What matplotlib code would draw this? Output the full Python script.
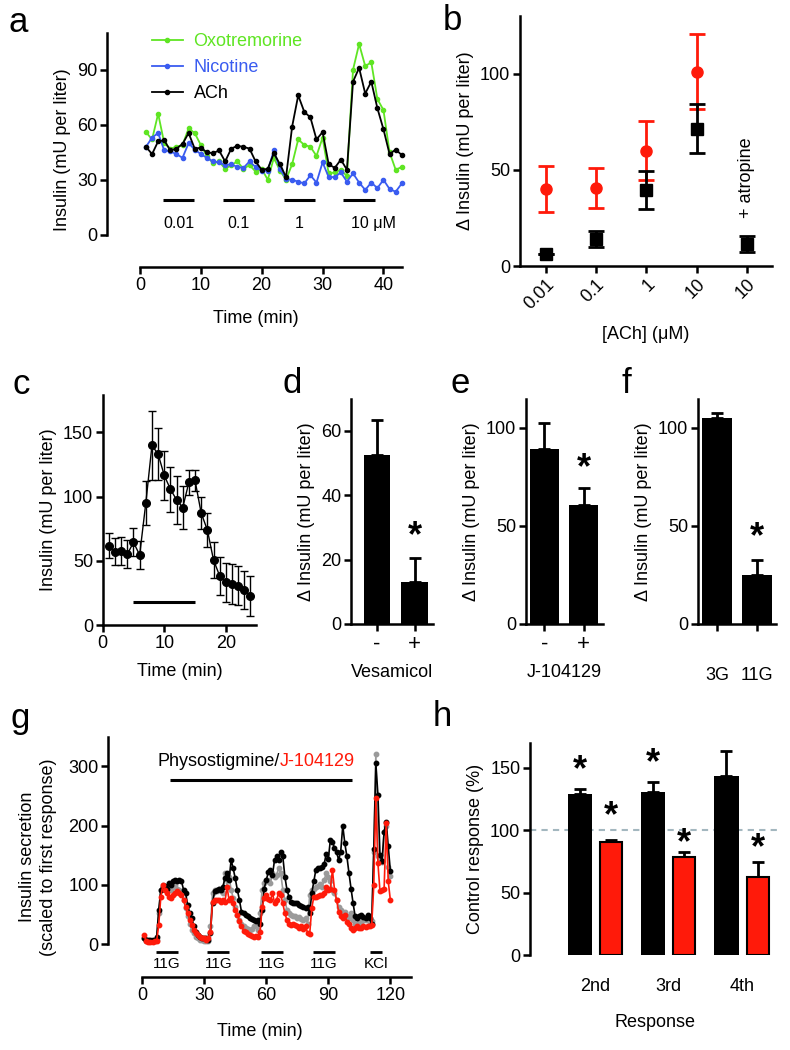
import matplotlib
matplotlib.use("Agg")
import matplotlib.pyplot as plt
import numpy as np

plt.rcParams['font.family'] = ['Liberation Sans', 'DejaVu Sans']
plt.rcParams['font.size'] = 13

# ---------------- data ----------------
# panel a
a_time = list(range(1, 44))
a_oxo = [56, 52, 66, 50, 47, 48, 49, 58, 55.5, 49, 43, 39, 40, 36, 38, 40, 36, 38, 34.5, 36,
         30, 42, 35, 30, 38.5, 52, 49, 48, 43, 53, 33.5, 34, 35.5, 32, 90, 104, 92, 94, 74, 68,
         45, 35.5, 37]
a_nic = [48, 53, 55.5, 46, 45.5, 44, 42, 50, 46.5, 44, 42, 40, 39.5, 38, 38.5, 37, 36.5, 40, 37, 35,
         35, 46, 36, 30.5, 30, 29, 28, 32.5, 28.5, 39.5, 31.5, 31.5, 34, 29, 33.5, 28.5, 24.5, 28.5,
         25.5, 30, 25, 23.5, 28]
a_ach = [48, 44, 51, 51.5, 46, 47, 49.5, 55.5, 47, 47.5, 45, 44.5, 46, 40, 47, 48.5, 48, 47, 40, 35.5,
         36, 44.5, 38.5, 31.5, 59, 76, 67, 64, 52, 56, 38.5, 36.5, 41, 35.5, 83.5, 91, 77, 83.5, 69,
         57.5, 44, 46.5, 43.5]
a_bar_start = [3.8, 13.6, 23.6, 33.4]
a_bar_end = [8.9, 18.8, 28.8, 38.6]
a_bar_labels = ['0.01', '0.1', '1', '10 \u03bcM']

# panel b
b_labels = ['0.01', '0.1', '1', '10', '10']
b_red = [40, 40.5, 60, 101]
b_red_err = [12, 10.5, 15.5, 19.5]
b_black = [6.5, 14, 39.5, 71.5, 11.5]
b_black_err = [0, 4.2, 10, 12.7, 4.2]

# panel c
c_time = list(range(1, 25))
c_mean = [61.8, 57, 57.7, 55, 64.4, 54.5, 94.8, 139.7, 133, 116.4, 105.7, 97.4, 91.4, 111, 112.5,
          87, 74, 50.6, 38.2, 33.2, 31.7, 30.6, 27.3, 22.8]
c_err = [9.5, 10.5, 11, 11, 11, 11, 17, 27, 20, 19, 17.5, 18.5, 17, 10, 8.5, 12.5, 13.5, 14, 14.5,
         15, 15.5, 15, 14.5, 15.5]

# panels d, e, f
d_labels = ['-', '+']
d_vals = [52.5, 13]
d_err = [11, 7.5]
e_labels = ['-', '+']
e_vals = [89.5, 60.7]
e_err = [13, 8.5]
f_labels = ['3G', '11G']
f_vals = [105, 25]
f_err = [2.7, 7.5]

# panel g
g_time = list(range(1, 121))
g_physo = [10, 8, 7, 8, 7, 8, 13, 58, 92, 97, 98, 94, 103, 100, 106, 108, 106, 108, 106, 92,
           86, 66, 52, 44, 30, 21, 16, 13, 11, 10, 10, 8, 19, 69, 89, 92, 93, 92, 97, 111,
           120, 108, 142, 128, 111, 92, 75, 55, 52, 49, 47, 44, 42, 41, 40, 41, 35, 58, 94, 108,
           122, 125, 117, 142, 148, 142, 156, 148, 114, 92, 80, 72, 70, 69, 69, 66, 65, 63, 61, 63,
           52, 86, 106, 126, 128, 128, 131, 135, 153, 143, 176, 173, 162, 156, 142, 156, 200, 170, 148, 120,
           94, 69, 47, 44, 47, 49, 46, 44, 49, 44, 35, 160, 305, 252, 150, 140, 190, 207, 165, 124]
g_ctrl = [10, 5, 5, 5, 6, 5, 8, 52, 92, 100, 97, 92, 97, 92, 97, 100, 94, 92, 86, 75,
          61, 47, 35, 24, 19, 13, 10, 8, 7, 6, 6, 6, 30, 86, 92, 90, 93, 89, 86, 120,
          97, 114, 92, 78, 63, 49, 41, 35, 30, 27, 25, 24, 25, 30, 33, 24, 52, 92, 103, 106,
          108, 103, 120, 114, 117, 128, 120, 92, 75, 58, 52, 49, 48, 47, 44, 46, 42, 41, 44, 35,
          83, 92, 94, 97, 98, 102, 97, 108, 120, 114, 106, 92, 86, 75, 63, 58, 52, 55, 47, 44,
          52, 41, 35, 35, 38, 35, 41, 41, 44, 35, 40, 156, 321, 148, 145, 139, 190, 200, 130, 115]
g_j104 = [15, 5, 3, 3, 4, 5, 6, 33, 80, 100, 92, 86, 80, 78, 83, 87, 89, 86, 83, 75,
          63, 52, 41, 33, 24, 19, 15, 12, 10, 10, 8, 10, 20, 72, 75, 74, 75, 72, 75, 71,
          97, 75, 78, 69, 58, 49, 40, 30, 23, 20, 17, 16, 14, 13, 14, 12, 21, 63, 78, 83,
          76, 74, 86, 70, 75, 86, 83, 69, 52, 41, 35, 33, 34, 33, 30, 27, 30, 25, 31, 19,
          17, 61, 80, 80, 81, 83, 83, 86, 97, 92, 94, 125, 92, 75, 55, 47, 44, 49, 38, 35,
          27, 24, 27, 30, 28, 27, 30, 29, 31, 30, 33, 100, 246, 137, 89, 92, 94, 204, 106, 75]
g_bar_start = [6.6, 31.5, 57.3, 82.7, 110.0]
g_bar_end = [17.1, 42.0, 67.9, 93.2, 115.8]
g_bar_labels = ['11G', '11G', '11G', '11G', 'KCl']

# panel h
h_labels = ['2nd', '3rd', '4th']
h_physo = [128.7, 130.6, 143]
h_physo_err = [4.3, 8, 20]
h_j104 = [90.7, 78.7, 62.8]
h_j104_err = [1.8, 3.7, 11.7]

# ---------------- figure ----------------
W, H = 790, 1050
fig = plt.figure(figsize=(W / 100, H / 100), dpi=100)
RED = '#ff1a0a'
GREEN = '#5fe523'
BLUE = '#3a5cf0'
GREY = '#9a9a9a'
LW = 1.8


def add_ax(l, t, r, b):
    return fig.add_axes([l / W, 1 - b / H, (r - l) / W, (b - t) / H])


def style(ax):
    for s in ['top', 'right']:
        ax.spines[s].set_visible(False)
    for s in ['left', 'bottom']:
        ax.spines[s].set_linewidth(LW)
    ax.tick_params(width=LW, length=5, labelsize=13, pad=2)


def letter(x, y, s):
    fig.text(x / W, 1 - y / H, s, fontsize=25, va='baseline', ha='left')


# ---- panel a ----
ax = add_ax(107, 33, 405.4, 267)
style(ax)
ax.plot(a_time, a_oxo, '-o', color=GREEN, ms=3, lw=1.3, label='Oxotremorine', clip_on=False)
ax.plot(a_time, a_nic, '-o', color=BLUE, ms=3, lw=1.3, label='Nicotine', clip_on=False)
ax.plot(a_time, a_ach, '-o', color='black', ms=3, lw=1.3, label='ACh', clip_on=False)
ax.set_xlim(-5.4, 43.6)
ax.set_ylim(-17.5, 110)
ax.spines['left'].set_bounds(0, 110)
ax.spines['bottom'].set_bounds(0, 43)
ax.set_yticks([0, 30, 60, 90])
ax.set_xticks([0, 10, 20, 30, 40])
ax.set_ylabel('Insulin (mU per liter)', labelpad=4)
ax.set_xlabel('Time (min)', labelpad=12)
for s0, s1, lab in zip(a_bar_start, a_bar_end, a_bar_labels):
    ax.plot([s0, s1], [19, 19], color='black', lw=2.2, solid_capstyle='butt')
    if lab.startswith('10 '):
        ax.text(s0 + 1.2, 6, lab, ha='left', va='center', fontsize=11.5)
    else:
        ax.text((s0 + s1) / 2, 6, lab, ha='center', va='center', fontsize=11.5)
leg = ax.legend(loc='upper left', bbox_to_anchor=(152 / W, 1 - 33 / H), bbox_transform=fig.transFigure,
                frameon=False, handlelength=1.7, handletextpad=0.6, labelspacing=0.5,
                borderpad=0, borderaxespad=0, labelcolor='linecolor', fontsize=13)
letter(8, 32, 'a')

# ---- panel b ----
ax = add_ax(520, 16, 772, 266)
style(ax)
xb = np.arange(len(b_labels))
ax.errorbar(xb[:4], b_red, yerr=b_red_err, fmt='o', color=RED, ms=8, elinewidth=2, capsize=6,
            capthick=2, zorder=3)
ax.errorbar(xb, b_black, yerr=b_black_err, fmt='s', color='black', ms=8, elinewidth=2, capsize=6,
            capthick=2, zorder=4)
ax.set_xlim(-0.51, 4.5)
ax.set_ylim(0, 130)
ax.set_yticks([0, 50, 100])
ax.set_xticks(xb)
ax.set_xticklabels(b_labels, rotation=45, ha='right', rotation_mode='anchor')
ax.set_ylabel('\u0394 Insulin (mU per liter)', labelpad=4)
ax.set_xlabel('[ACh] (\u03bcM)', labelpad=10)
ax.text(4, 46, '+ atropine', rotation=90, ha='center', va='center', fontsize=13)
letter(443, 30, 'b')

# ---- panel c ----
ax = add_ax(102.7, 395, 256, 625)
style(ax)
ax.errorbar(c_time, c_mean, yerr=c_err, fmt='-o', color='black', ms=5.5, lw=1, elinewidth=1,
            capsize=3, capthick=1, clip_on=False)
ax.plot([5, 15], [17.7, 17.7], color='black', lw=2.2, solid_capstyle='butt')
ax.set_xlim(0, 24.9)
ax.set_ylim(0, 179)
ax.set_yticks([0, 50, 100, 150])
ax.set_xticks([0, 10, 20])
ax.set_ylabel('Insulin (mU per liter)', labelpad=4)
ax.set_xlabel('Time (min)', labelpad=8)
letter(12, 394, 'c')


# ---- panels d, e, f ----
def bar_panel(box, vals, errs, labels, ylim, xlim, yticks, xlabel, star_y, width, tick_pad, tick_fs):
    ax = add_ax(*box)
    style(ax)
    x = np.arange(len(vals))
    ax.bar(x, vals, width=width, color='black')
    ax.errorbar(x, vals, yerr=[np.zeros(len(errs)), errs], fmt='none', ecolor='black',
                elinewidth=2, capsize=4.5, capthick=2)
    ax.set_xlim(*xlim)
    ax.set_ylim(*ylim)
    ax.set_yticks(yticks)
    ax.set_xticks(x)
    ax.set_xticklabels(labels, fontsize=tick_fs)
    ax.tick_params(axis='x', pad=tick_pad)
    ax.set_ylabel('\u0394 Insulin (mU per liter)', labelpad=4)
    if xlabel:
        ax.set_xlabel(xlabel, labelpad=7)
    ax.text(1, star_y, '*', ha='center', va='center', fontsize=26, fontweight='bold')
    return ax


bar_panel((351, 399.3, 433.3, 624), d_vals, d_err, d_labels, (0, 69.8), (-0.68, 1.49),
          [0, 20, 40, 60], 'Vesamicol', 27, 0.7, 2, 16)
letter(282, 393, 'd')
bar_panel((526, 399.3, 603, 624), e_vals, e_err, e_labels, (0, 114.6), (-0.47, 1.49),
          [0, 50, 100], 'J-104129', 79, 0.74, 2, 16)
letter(450, 393, 'e')
bar_panel((697.7, 399.3, 776, 624), f_vals, f_err, f_labels, (0, 114.6), (-0.49, 1.48),
          [0, 50, 100], None, 44, 0.74, 26, 13)
letter(622, 393, 'f')

# ---- panel g ----
ax = add_ax(108.3, 737.3, 411, 977.3)
style(ax)
ax.plot(g_time, g_physo, '-o', color='black', ms=3.2, lw=1.2, zorder=3)
ax.plot(g_time, g_ctrl, '-o', color=GREY, ms=3.2, lw=1.2, zorder=2)
ax.plot(g_time, g_j104, '-o', color=RED, ms=3.2, lw=1.2, zorder=4)
ax.set_xlim(-16.4, 130)
ax.set_ylim(-55.7, 349)
ax.spines['left'].set_bounds(0, 349)
ax.spines['bottom'].set_bounds(0, 130)
ax.set_yticks([0, 100, 200, 300])
ax.set_xticks([0, 30, 60, 90, 120])
ax.set_ylabel('Insulin secretion\n(scaled to first response)', labelpad=8, linespacing=1.3)
ax.set_xlabel('Time (min)', labelpad=14)
for s0, s1, lab in zip(g_bar_start, g_bar_end, g_bar_labels):
    ax.plot([s0, s1], [-12.4, -12.4], color='black', lw=2, solid_capstyle='butt')
    ax.text((s0 + s1) / 2, -34, lab, ha='center', va='center', fontsize=11)
ax.plot([13.4, 101.3], [277, 277], color='black', lw=2.2, solid_capstyle='butt')
ax.text(66.6, 300, 'Physostigmine/', ha='right', va='baseline', fontsize=13)
ax.text(66.6, 300, 'J-104129', ha='left', va='baseline', fontsize=13, color=RED)
letter(10, 728, 'g')

# ---- panel h ----
ax = add_ax(530, 742.7, 780, 955.3)
style(ax)
ax.spines['bottom'].set_visible(False)
xh = np.arange(len(h_labels))
ax.axhline(100, color='#a3b7bf', lw=1.5, ls=(0, (3, 2.5)), zorder=0)
ax.bar(xh - 0.21, h_physo, width=0.33, color='black', zorder=2)
ax.bar(xh + 0.215, h_j104, width=0.30, color=RED, edgecolor='black', lw=1.5, zorder=2)
ax.errorbar(xh - 0.21, h_physo, yerr=[np.zeros(3), h_physo_err], fmt='none', ecolor='black',
            elinewidth=2, capsize=4.5, capthick=2, zorder=1)
ax.errorbar(xh + 0.215, h_j104, yerr=[np.zeros(3), h_j104_err], fmt='none', ecolor='black',
            elinewidth=2, capsize=4.5, capthick=2, zorder=1)
ax.set_xlim(-0.89, 2.52)
ax.set_ylim(0, 170)
ax.set_yticks([0, 50, 100, 150])
ax.set_xticks(xh)
ax.set_xticklabels(h_labels)
ax.tick_params(axis='x', length=0, pad=16)
ax.set_ylabel('Control response (%)', labelpad=4)
ax.set_xlabel('Response', labelpad=14)
stars = [(-0.21, 148), (0.215, 111), (0.79, 153.5), (1.215, 89), (2.215, 85)]
for sx, sy in stars:
    ax.text(sx, sy, '*', ha='center', va='center', fontsize=26, fontweight='bold')
letter(433, 726, 'h')

fig.savefig('out.png', dpi=100)
